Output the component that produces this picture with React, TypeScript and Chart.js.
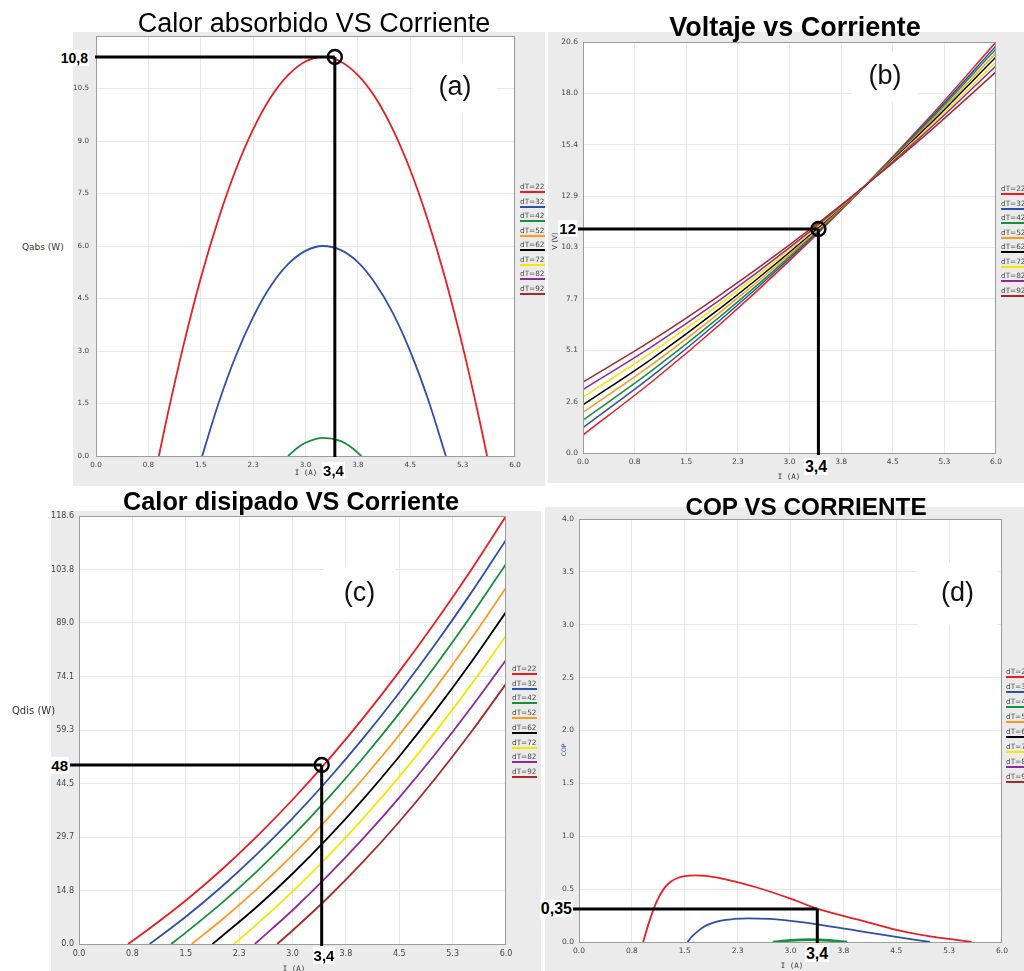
import { useEffect, useRef } from 'react';
import { Chart, registerables } from 'chart.js';

Chart.register(...registerables);

// ---------------- shared ----------------
const legendLabels = ['dT=22', 'dT=32', 'dT=42', 'dT=52', 'dT=62', 'dT=72', 'dT=82', 'dT=92'];
const seriesColors = ['#ec1c24', '#2e4fae', '#16903c', '#ff9a1e', '#000000', '#f7e600', '#8c2a9e', '#a8282c'];

const currentTicks = [0, 0.75, 1.5, 2.25, 3, 3.75, 4.5, 5.25, 6];
const currentTickLabels = ['0.0', '0.8', '1.5', '2.3', '3.0', '3.8', '4.5', '5.3', '6.0'];

// ---------------- (a) Calor absorbido ----------------
const qabsTicks = [0, 1.5, 3, 4.5, 6, 7.5, 9, 10.5, 12];
const qabsTickLabels = ['0.0', '1.5', '3.0', '4.5', '6.0', '7.5', '9.0', '10.5', ''];
const qabsI22 = [0.9, 1.0, 1.25, 1.5, 1.75, 2.0, 2.25, 2.5, 2.75, 3.0, 3.25, 3.5, 3.75, 4.0, 4.25, 4.5, 4.75, 5.0, 5.25, 5.5, 5.6];
const qabs22 = [0, 0.95, 3.14, 5.08, 6.75, 8.17, 9.33, 10.24, 10.88, 11.27, 11.4, 11.27, 10.88, 10.24, 9.33, 8.17, 6.75, 5.08, 3.14, 0.95, 0];
const qabsI32 = [1.52, 1.75, 2.0, 2.25, 2.5, 2.75, 3.0, 3.25, 3.5, 3.75, 4.0, 4.25, 4.5, 4.75, 5.01];
const qabs32 = [0, 1.48, 2.85, 3.97, 4.85, 5.48, 5.86, 6.0, 5.89, 5.54, 4.93, 4.09, 2.99, 1.65, 0];
const qabsI42 = [2.75, 2.9, 3.0, 3.25, 3.5, 3.65, 3.8];
const qabs42 = [0, 0.26, 0.38, 0.52, 0.43, 0.26, 0];
const qabsMarker = [3.42, 11.4];

// ---------------- (b) Voltaje ----------------
const voltTicks = [0, 2.575, 5.15, 7.725, 10.3, 12.875, 15.45, 18.025, 20.6];
const voltTickLabels = ['0.0', '2.6', '5.1', '7.7', '10.3', '12.9', '15.4', '18.0', '20.6'];
const voltI = [0, 1, 2, 3, 4, 5, 6];
const volt22 = [0.9, 3.57, 6.48, 9.64, 13.05, 16.7, 20.6];
const volt32 = [1.27, 3.85, 6.68, 9.75, 13.06, 16.61, 20.4];
const volt42 = [1.65, 4.13, 6.86, 9.84, 13.06, 16.53, 20.25];
const volt52 = [2.04, 4.43, 7.07, 9.95, 13.07, 16.44, 20.05];
const volt62 = [2.41, 4.72, 7.27, 10.06, 13.08, 16.35, 19.85];
const volt72 = [2.8, 5.04, 7.5, 10.18, 13.1, 16.24, 19.6];
const volt82 = [3.18, 5.33, 7.7, 10.29, 13.11, 16.14, 19.4];
const volt92 = [3.55, 5.64, 7.94, 10.43, 13.12, 16.01, 19.1];
const voltMarker = [3.42, 11.23];

// ---------------- (c) Calor disipado ----------------
const qdisTicks = [0, 14.825, 29.65, 44.475, 59.3, 74.125, 88.95, 103.775, 118.6];
const qdisTickLabels = ['0.0', '14.8', '29.7', '44.5', '59.3', '74.1', '89.0', '103.8', '118.6'];
const qdisI22 = [0.69, 1.0, 1.5, 2, 2.5, 3, 3.5, 4, 4.5, 5, 5.5, 6];
const qdis22 = [0, 4.43, 12.05, 20.51, 29.82, 39.97, 50.96, 62.8, 75.48, 89.0, 103.37, 118.6];
const qdisI32 = [0.995, 1.5, 2, 2.5, 3, 3.5, 4, 4.5, 5, 5.5, 6];
const qdis32 = [0, 7.55, 15.8, 24.89, 34.82, 45.58, 57.18, 69.62, 82.91, 97.02, 111.98];
const qdisI42 = [1.295, 1.5, 2, 2.5, 3, 3.5, 4, 4.5, 5, 5.5, 6];
const qdis42 = [0, 3.15, 11.24, 20.14, 29.86, 40.4, 51.75, 63.92, 76.91, 90.7, 105.33];
const qdisI52 = [1.585, 2, 2.5, 3, 3.5, 4, 4.5, 5, 5.5, 6];
const qdis52 = [0, 6.59, 15.2, 24.64, 34.9, 46.01, 57.93, 70.7, 84.28, 98.71];
const qdisI62 = [1.876, 2, 2.5, 3, 3.5, 4, 4.5, 5, 5.5, 6];
const qdis62 = [0, 2.02, 10.33, 19.47, 29.46, 40.28, 51.95, 64.45, 77.8, 91.98];
const qdisI72 = [2.18, 2.5, 3, 3.5, 4, 4.5, 5, 5.5, 6];
const qdis72 = [0, 5.51, 14.53, 24.35, 34.96, 46.37, 58.58, 71.59, 85.4];
const qdisI82 = [2.47, 3, 3.5, 4, 4.5, 5, 5.5, 6];
const qdis82 = [0, 9.36, 19.0, 29.39, 40.57, 52.51, 65.24, 78.72];
const qdisI92 = [2.785, 3, 3.5, 4, 4.5, 5, 5.5, 6];
const qdis92 = [0, 3.74, 12.89, 22.94, 33.88, 45.72, 58.46, 72.09];
const qdisMarker = [3.41, 49.6];

// ---------------- (d) COP ----------------
const copTicks = [0, 0.5, 1, 1.5, 2, 2.5, 3, 3.5, 4];
const copTickLabels = ['0.0', '0.5', '1.0', '1.5', '2.0', '2.5', '3.0', '3.5', '4.0'];
const copI22 = [0.91, 1.0, 1.1, 1.2, 1.3, 1.4, 1.5, 1.65, 1.8, 2.0, 2.5, 3.0, 3.4, 4.0, 4.5, 5.0, 5.3, 5.57];
const cop22 = [0, 0.2, 0.38, 0.5, 0.57, 0.605, 0.622, 0.63, 0.625, 0.605, 0.52, 0.41, 0.31, 0.205, 0.115, 0.05, 0.025, 0];
const copI32 = [1.54, 1.6, 1.7, 1.8, 2.0, 2.2, 2.4, 2.7, 3.0, 3.4, 4.0, 4.5, 4.98];
const cop32 = [0, 0.05, 0.11, 0.155, 0.2, 0.218, 0.224, 0.218, 0.2, 0.165, 0.1, 0.048, 0];
const copI42 = [2.75, 3.0, 3.27, 3.55, 3.8];
const cop42 = [0, 0.015, 0.022, 0.015, 0];
const copMarker = [3.38, 0.312];

// ---------------- panel configuration ----------------
const mk = (k: number, x: number[], y: number[], width = 1.8) => ({
  label: legendLabels[k],
  color: seriesColors[k],
  x,
  y,
  width,
});

const panels: any[] = [
  {
    key: 'a',
    box: [73, 32, 472, 454],
    area: { top: 4, right: 30, yW: 23, xH: 30 },
    yTicks: qabsTicks,
    yLabels: qabsTickLabels,
    font: 7.2,
    yPad: 3,
    series: [mk(0, qabsI22, qabs22), mk(1, qabsI32, qabs32), mk(2, qabsI42, qabs42)],
    marker: qabsMarker,
    hFrom: 1,
    vTo: 1,
    circle: true,
  },
  {
    key: 'b',
    box: [548, 32, 476, 451],
    area: { top: 10, right: 28, yW: 35, xH: 30 },
    yTicks: voltTicks,
    yLabels: voltTickLabels,
    font: 7.5,
    yPad: 1,
    series: [
      mk(7, voltI, volt92, 1.5),
      mk(6, voltI, volt82, 1.5),
      mk(5, voltI, volt72, 1.5),
      mk(4, voltI, volt62, 1.5),
      mk(3, voltI, volt52, 1.5),
      mk(2, voltI, volt42, 1.5),
      mk(1, voltI, volt32, 1.5),
      mk(0, voltI, volt22, 1.5),
    ],
    marker: voltMarker,
    hFrom: 5,
    vTo: 2,
    circle: true,
  },
  {
    key: 'c',
    box: [51, 511, 490, 460],
    area: { top: 5, right: 35, yW: 28, xH: 27 },
    yTicks: qdisTicks,
    yLabels: qdisTickLabels,
    font: 8,
    yPad: 1,
    series: [
      mk(0, qdisI22, qdis22),
      mk(1, qdisI32, qdis32),
      mk(2, qdisI42, qdis42),
      mk(3, qdisI52, qdis52),
      mk(4, qdisI62, qdis62),
      mk(5, qdisI72, qdis72),
      mk(6, qdisI82, qdis82),
      mk(7, qdisI92, qdis92),
    ],
    marker: qdisMarker,
    hFrom: 9,
    vTo: 2,
    circle: true,
  },
  {
    key: 'd',
    box: [545, 507, 479, 464],
    area: { top: 12, right: 22, yW: 34, xH: 29 },
    yTicks: copTicks,
    yLabels: copTickLabels,
    font: 7.5,
    yPad: 1,
    series: [mk(0, copI22, cop22), mk(1, copI32, cop32), mk(2, copI42, cop42, 2.6)],
    marker: copMarker,
    hFrom: 6,
    vTo: 1,
    circle: false,
  },
];

function makeChart(canvas: HTMLCanvasElement, p: any) {
  const framePlugin = {
    id: 'frame' + p.key,
    beforeDraw(chart: any) {
      const { ctx, chartArea: a } = chart;
      ctx.save();
      ctx.fillStyle = '#ffffff';
      ctx.fillRect(a.left, a.top, a.right - a.left, a.bottom - a.top);
      ctx.restore();
    },
    afterDatasetsDraw(chart: any) {
      const { ctx, chartArea: a, scales } = chart;
      ctx.save();
      ctx.strokeStyle = '#9c9c9c';
      ctx.lineWidth = 1;
      ctx.strokeRect(Math.round(a.left) + 0.5, Math.round(a.top) + 0.5, Math.round(a.right - a.left) - 1, Math.round(a.bottom - a.top));
      const px = scales.x.getPixelForValue(p.marker[0]);
      const py = scales.y.getPixelForValue(p.marker[1]);
      ctx.strokeStyle = '#000';
      ctx.lineWidth = 3;
      ctx.beginPath();
      ctx.moveTo(a.left - p.hFrom, py);
      ctx.lineTo(px, py);
      ctx.moveTo(px, py);
      ctx.lineTo(px, a.bottom + p.vTo);
      ctx.stroke();
      if (p.circle) {
        ctx.lineWidth = 2.4;
        ctx.beginPath();
        ctx.arc(px, py, 7, 0, Math.PI * 2);
        ctx.stroke();
      }
      ctx.restore();
    },
  };

  const tickFont = { family: '"DejaVu Sans", Verdana, sans-serif', size: p.font };
  const yMax = p.yTicks[p.yTicks.length - 1];

  return new Chart(canvas, {
    type: 'line',
    data: {
      datasets: p.series.map((s: any) => ({
        label: s.label,
        data: s.x.map((xv: number, i: number) => ({ x: xv, y: s.y[i] })),
        borderColor: s.color,
        backgroundColor: s.color,
        borderWidth: s.width,
        pointRadius: 0,
        fill: false,
        cubicInterpolationMode: 'monotone',
      })),
    },
    options: {
      responsive: false,
      maintainAspectRatio: false,
      animation: false,
      devicePixelRatio: 1,
      events: [],
      layout: { padding: { left: 0, top: p.area.top, right: p.area.right, bottom: 0 } },
      plugins: {
        legend: { display: false },
        title: { display: false },
        tooltip: { enabled: false },
      },
      scales: {
        x: {
          type: 'linear',
          min: 0,
          max: 6,
          afterBuildTicks: (sc: any) => {
            sc.ticks = currentTicks.map((v) => ({ value: v }));
          },
          afterFit: (sc: any) => {
            sc.height = p.area.xH;
            sc.paddingLeft = 0;
            sc.paddingRight = 0;
          },
          ticks: {
            autoSkip: false,
            maxRotation: 0,
            minRotation: 0,
            padding: 1,
            color: '#444',
            font: tickFont,
            callback: (_v: any, i: number) => currentTickLabels[i],
          },
          grid: { color: '#e8e8e8', tickLength: 4, drawTicks: true },
          border: { display: false },
        },
        y: {
          type: 'linear',
          min: 0,
          max: yMax,
          afterBuildTicks: (sc: any) => {
            sc.ticks = p.yTicks.map((v: number) => ({ value: v }));
          },
          afterFit: (sc: any) => {
            sc.width = p.area.yW;
            sc.paddingTop = 0;
            sc.paddingBottom = 0;
          },
          ticks: {
            autoSkip: false,
            padding: p.yPad,
            color: '#444',
            font: tickFont,
            callback: (_v: any, i: number) => p.yLabels[i],
          },
          grid: { color: '#e8e8e8', tickLength: 4, drawTicks: true },
          border: { display: false },
        },
      },
    } as any,
    plugins: [framePlugin],
  } as any);
}

function ChartPanel({ cfg }: { cfg: any }) {
  const ref = useRef<HTMLCanvasElement>(null);
  useEffect(() => {
    const chart = makeChart(ref.current as HTMLCanvasElement, cfg);
    return () => chart.destroy();
  }, [cfg]);
  const [l, t, w, h] = cfg.box;
  return (
    <canvas
      ref={ref}
      width={w}
      height={h}
      style={{ position: 'absolute', left: l, top: t, width: w, height: h, background: '#ebebeb' }}
    />
  );
}

const titles = [
  { text: 'Calor absorbido VS Corriente', cx: 314, base: 33, size: 27, bold: false },
  { text: 'Voltaje vs Corriente', cx: 795, base: 37, size: 27, bold: true },
  { text: 'Calor disipado VS Corriente', cx: 291, base: 510, size: 25.3, bold: true },
  { text: 'COP VS CORRIENTE', cx: 806, base: 516, size: 24.3, bold: true },
];

const panelTags = [
  { text: '(a)', x: 413, y: 62, w: 84, h: 52 },
  { text: '(b)', x: 852, y: 52, w: 66, h: 50 },
  { text: '(c)', x: 324, y: 566, w: 71, h: 56 },
  { text: '(d)', x: 918, y: 563, w: 79, h: 62 },
];

const valueTags = [
  { text: '10,8', right: 89, base: 63, size: 14 },
  { text: '12', right: 577, base: 234, size: 15 },
  { text: '48', right: 69, base: 771, size: 15 },
  { text: '0,35', right: 573, base: 915, size: 16 },
  { text: '3,4', cx: 333.5, base: 476, size: 15 },
  { text: '3,4', cx: 816, base: 473, size: 16 },
  { text: '3,4', cx: 324, base: 961, size: 15 },
  { text: '3,4', cx: 817, base: 960, size: 16 },
];

const legends = [
  { x: 520, y0: 188.3, dy: 14.5 },
  { x: 1001, y0: 190, dy: 14.5 },
  { x: 512, y0: 670, dy: 14.7 },
  { x: 1006, y0: 673, dy: 15 },
];

const xAxisTitles = [
  { cx: 306, cy: 473 },
  { cx: 789, cy: 477 },
  { cx: 294, cy: 969 },
  { cx: 792, cy: 966 },
];

const sansFamily = '"Liberation Sans", Arial, Helvetica, sans-serif';

export default function App() {
  return (
    <div
      style={{
        position: 'absolute',
        left: 0,
        top: 0,
        width: 1024,
        height: 971,
        background: '#ffffff',
        overflow: 'hidden',
        fontFamily: sansFamily,
      }}
    >
      {panels.map((p) => (
        <ChartPanel key={p.key} cfg={p} />
      ))}

      {titles.map((t, i) => (
        <div
          key={'t' + i}
          style={{
            position: 'absolute',
            left: t.cx - 300,
            width: 600,
            top: t.base - 0.8465 * t.size,
            fontSize: t.size,
            lineHeight: t.size + 'px',
            textAlign: 'center',
            fontWeight: t.bold ? 700 : 400,
            color: '#000',
            whiteSpace: 'nowrap',
          }}
        >
          {t.text}
        </div>
      ))}

      {panelTags.map((t, i) => (
        <div
          key={'p' + i}
          style={{
            position: 'absolute',
            left: t.x,
            top: t.y,
            width: t.w,
            height: t.h,
            background: '#ffffff',
          }}
        >
          <div
            style={{
              position: 'relative',
              top: -2,
              width: t.w,
              lineHeight: t.h + 'px',
              fontSize: 27,
              textAlign: 'center',
              color: '#111',
            }}
          >
            {t.text}
          </div>
        </div>
      ))}

      {valueTags.map((t: any, i) => (
        <div
          key={'v' + i}
          style={{
            position: 'absolute',
            top: t.base - 0.8465 * t.size,
            ...(t.cx !== undefined
              ? { left: t.cx - 20, width: 40, textAlign: 'center' as const }
              : { right: 1024 - t.right, textAlign: 'right' as const }),
            fontSize: t.size,
            lineHeight: t.size + 'px',
            fontWeight: 700,
            color: '#000',
            whiteSpace: 'nowrap',
          }}
        >
          <span style={{ background: '#ffffff', padding: '0 1px' }}>{t.text}</span>
        </div>
      ))}

      {legends.map((lg, j) =>
        legendLabels.map((lab, k) => (
          <div
            key={'l' + j + '-' + k}
            style={{
              position: 'absolute',
              left: lg.x,
              top: lg.y0 + k * lg.dy - 5,
              fontSize: 7.3,
              lineHeight: '8px',
              fontFamily: '"DejaVu Sans", Verdana, sans-serif',
              color: '#4a4a4a',
              borderBottom: '2px solid ' + seriesColors[k],
              whiteSpace: 'nowrap',
            }}
          >
            {lab}
          </div>
        ))
      )}

      {xAxisTitles.map((a, i) => (
        <div
          key={'x' + i}
          style={{
            position: 'absolute',
            left: a.cx - 30,
            width: 60,
            top: a.cy - 5,
            lineHeight: '10px',
            textAlign: 'center',
            fontSize: 7.5,
            fontFamily: '"DejaVu Sans Mono", monospace',
            color: '#333',
            whiteSpace: 'nowrap',
          }}
        >
          I (A)
        </div>
      ))}

      <div
        style={{
          position: 'absolute',
          left: 22,
          top: 242,
          fontSize: 9,
          lineHeight: '10px',
          fontFamily: '"DejaVu Sans", Verdana, sans-serif',
          color: '#333',
          whiteSpace: 'nowrap',
        }}
      >
        Qabs (W)
      </div>
      <div
        style={{
          position: 'absolute',
          left: 12,
          top: 705,
          fontSize: 10,
          lineHeight: '11px',
          fontFamily: '"DejaVu Sans", Verdana, sans-serif',
          color: '#333',
          whiteSpace: 'nowrap',
        }}
      >
        Qdis (W)
      </div>
      <div
        style={{
          position: 'absolute',
          left: 555,
          top: 241,
          transform: 'translate(-50%, -50%) rotate(-90deg)',
          fontSize: 7,
          lineHeight: '8px',
          fontFamily: '"DejaVu Sans", Verdana, sans-serif',
          color: '#333',
          whiteSpace: 'nowrap',
        }}
      >
        V (V)
      </div>
      <div
        style={{
          position: 'absolute',
          left: 563,
          top: 750,
          transform: 'translate(-50%, -50%) rotate(-90deg)',
          fontSize: 6,
          lineHeight: '7px',
          fontFamily: '"DejaVu Sans", Verdana, sans-serif',
          color: '#27408b',
          whiteSpace: 'nowrap',
        }}
      >
        COP
      </div>
    </div>
  );
}
